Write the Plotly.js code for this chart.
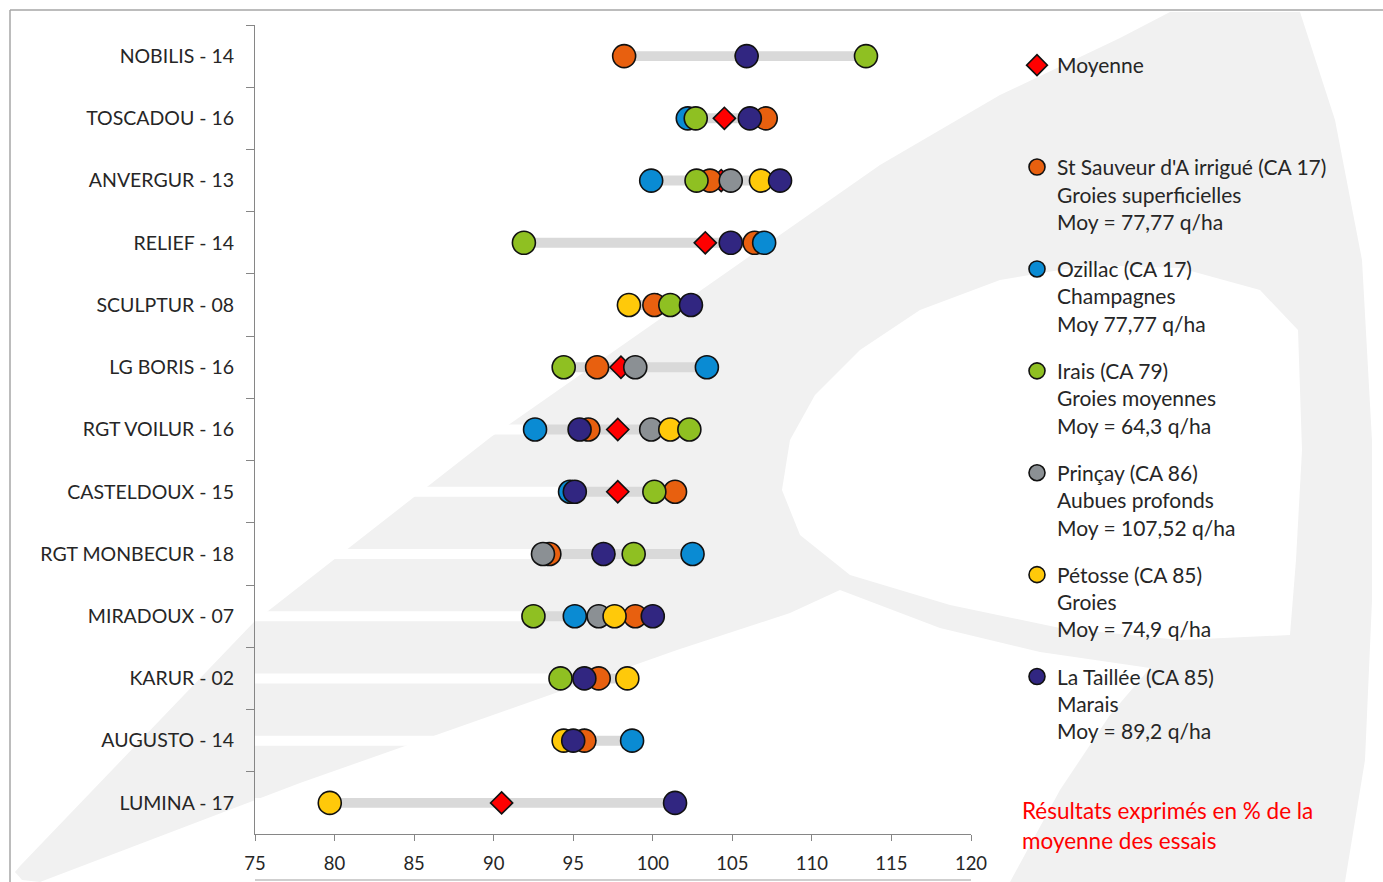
<!DOCTYPE html>
<html>
<head>
<meta charset="utf-8">
<script src="https://cdn.plot.ly/plotly-3.0.1.min.js"></script>
<style>html,body{margin:0;padding:0;background:#fff}#chart{width:1383px;height:882px}</style>
</head>
<body>
<div id="chart"></div>
<script>
// ---- data (values in % of trial mean) ----
const categories = ['NOBILIS - 14','TOSCADOU - 16','ANVERGUR - 13','RELIEF - 14','SCULPTUR - 08','LG BORIS - 16','RGT VOILUR - 16','CASTELDOUX - 15','RGT MONBECUR - 18','MIRADOUX - 07','KARUR - 02','AUGUSTO - 14','LUMINA - 17'];
const stSauveur = [98.2, 107.1, 103.6, 106.4, 100.1, 96.5, 95.95, 101.4, 93.5, 98.9, 96.6, 95.7, null];
const ozillac   = [null, 102.2, 99.9, 107.0, null, 103.4, 92.6, 94.8, 102.5, 95.1, null, 98.7, null];
const irais     = [113.4, 102.7, 102.75, 91.9, 101.1, 94.4, 102.3, 100.1, 98.8, 92.5, 94.2, null, null];
const princay   = [null, null, 104.9, null, null, 98.9, 99.9, null, 93.1, 96.6, null, null, null];
const petosse   = [null, null, 106.8, null, 98.5, null, 101.1, null, null, 97.6, 98.4, 94.4, 79.7];
const taillee   = [105.9, 106.1, 108.0, 104.9, 102.4, null, 95.4, 95.1, 96.9, 100.0, 95.7, 95.0, 101.4];
const moyenne   = [105.9, 104.5, 104.3, 103.3, 100.3, 98.0, 97.8, 97.8, 96.9, 96.6, 95.8, 95.7, 90.5];
const xTicks = [75, 80, 85, 90, 95, 100, 105, 110, 115, 120];

const names = {
  moy: 'Moyenne<br> <br> ',
  ss: "St Sauveur d'A irrigué (CA 17)<br>Groies superficielles<br>Moy = 77,77 q/ha",
  oz: 'Ozillac (CA 17)<br>Champagnes<br>Moy 77,77 q/ha',
  ir: 'Irais (CA 79)<br>Groies moyennes<br>Moy = 64,3 q/ha',
  pr: 'Prinçay (CA 86)<br>Aubues profonds<br>Moy = 107,52 q/ha',
  pe: 'Pétosse (CA 85)<br>Groies<br>Moy = 74,9 q/ha',
  lt: 'La Taillée (CA 85)<br>Marais<br>Moy = 89,2 q/ha'
};

const allSeries = [stSauveur, ozillac, irais, princay, petosse, taillee, moyenne];
const mins = categories.map((c, i) => Math.min(...allSeries.map(s => s[i]).filter(v => v != null)));
const maxs = categories.map((c, i) => Math.max(...allSeries.map(s => s[i]).filter(v => v != null)));
const spans = maxs.map((m, i) => m - mins[i]);

const FONT = 'Lato, "Open Sans", sans-serif';
const BARW = 0.16;

const traces = [
  {type:'bar', orientation:'h', y:categories, x:mins, width:BARW, marker:{color:'#ffffff'}, showlegend:false, hoverinfo:'skip'},
  {type:'bar', orientation:'h', y:categories, x:spans, base:mins, width:BARW, marker:{color:'#d9d9d9'}, showlegend:false, hoverinfo:'skip'}
];
function dots(vals, name, color, rank, symbol, size) {
  return {type:'scatter', mode:'markers', x:vals, y:categories, name:name, legendgroup:'g'+rank, legendrank:rank,
    marker:{symbol:symbol||'circle', size:size||23, color:color, line:{color:'#111', width:1.6}}};
}
traces.push(dots(moyenne, names.moy, '#ff0000', 1, 'diamond', 17));
traces.push(dots(stSauveur, names.ss, '#e8600f', 2));
traces.push(dots(ozillac, names.oz, '#0a8bd3', 3));
traces.push(dots(princay, names.pr, '#8b9094', 5));
traces.push(dots(petosse, names.pe, '#ffc90a', 6));
traces.push(dots(irais, names.ir, '#8fc022', 4));
traces.push(dots(taillee, names.lt, '#312681', 7));

// ---- watermark (pixel outline -> paper coords) ----
const L = 255, W = 716, B = 834, H = 809;
function path(pts) {
  return 'M' + pts.map(p => ((p[0]-L)/W).toFixed(4) + ',' + ((B-p[1])/H).toFixed(4)).join(' L') + ' Z';
}
const wmGray = [[20,866],[254,622],[491,437],[730,270],[880,165],[1000,95],[1120,38],[1170,12],[1300,12],[1335,120],[1362,260],[1372,441],[1372,600],[1365,760],[1345,882],[1010,882],[1060,790],[1110,715],[1150,668],[1040,652],[940,628],[840,590],[790,613],[677,650],[300,783],[40,882],[22,880],[15,872]];
const wmHole = [[850,575],[800,535],[782,490],[790,440],[815,395],[860,350],[920,310],[1000,280],[1090,265],[1180,268],[1260,290],[1298,330],[1302,450],[1296,560],[1290,635],[1180,640],[1060,628],[950,605]];
function px(x){return (x-L)/W;} function py(y){return (B-y)/H;}

const shapes = [
  {type:'path', xref:'paper', yref:'paper', path:path(wmGray), fillcolor:'#f1f1f1', line:{width:0}, layer:'below'},
  {type:'path', xref:'paper', yref:'paper', path:path(wmHole), fillcolor:'#ffffff', line:{width:0}, layer:'below'},
  {type:'line', xref:'paper', yref:'paper', x0:px(10), x1:px(1390), y0:py(10), y1:py(10), line:{color:'#a6a6a6', width:1.5}},
  {type:'line', xref:'paper', yref:'paper', x0:px(10), x1:px(10), y0:py(10), y1:py(890), line:{color:'#a6a6a6', width:1.5}},
  {type:'line', xref:'paper', yref:'paper', x0:0, x1:1, y0:py(880), y1:py(880), line:{color:'#bfbfbf', width:1.5}}
];

const layout = {
  width:1383, height:882,
  margin:{l:L, r:1383-L-W, t:B-H, b:882-B},
  paper_bgcolor:'#ffffff', plot_bgcolor:'rgba(0,0,0,0)',
  barmode:'overlay', showlegend:true, hovermode:false,
  font:{family:FONT, color:'#262626'},
  xaxis:{range:[75,120], tickvals:xTicks, ticktext:xTicks.map(String), showgrid:false, zeroline:false,
    showline:true, linecolor:'#868686', linewidth:1, ticks:'outside', ticklen:6, tickcolor:'#868686',
    ticklabelstandoff:7, tickfont:{family:FONT, size:18.5, color:'#262626'}, fixedrange:true},
  yaxis:{type:'category', categoryorder:'array', categoryarray:categories, range:[categories.length-0.5, -0.5], autorange:false,
    showgrid:false, zeroline:false, showline:true, linecolor:'#868686', linewidth:1,
    ticks:'outside', tickson:'boundaries', ticklen:8, tickcolor:'#868686', ticklabelstandoff:16,
    tickfont:{family:FONT, size:19.5, color:'#262626'}, fixedrange:true},
  legend:{x:px(1017), xanchor:'left', y:py(45), yanchor:'top', bgcolor:'rgba(0,0,0,0)', borderwidth:0,
    traceorder:'grouped', tracegroupgap:17, valign:'top', font:{family:FONT, size:21, color:'#262626'}},
  shapes:shapes,
  annotations:[
    {xref:'paper', yref:'paper', x:px(1020), y:py(810), xanchor:'left', yanchor:'middle', showarrow:false,
      text:'Résultats exprimés en % de la', font:{family:FONT, size:22.5, color:'#ff0000'}},
    {xref:'paper', yref:'paper', x:px(1020), y:py(841), xanchor:'left', yanchor:'middle', showarrow:false,
      text:'moyenne des essais', font:{family:FONT, size:22.5, color:'#ff0000'}}
  ]
};

Plotly.newPlot('chart', traces, layout, {staticPlot:true, displayModeBar:false});
</script>
</body>
</html>
